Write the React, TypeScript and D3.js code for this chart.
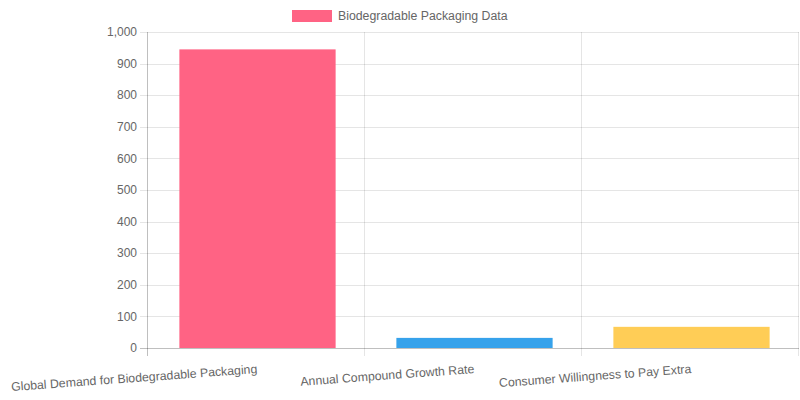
import { useRef, useEffect } from "react";
import * as d3 from "d3";

const categories = [
  "Global Demand for Biodegradable Packaging",
  "Annual Compound Growth Rate",
  "Consumer Willingness to Pay Extra",
];
const values = [945, 32, 67];
const barColors = ["#ff6384", "#36a2eb", "#ffcd56"];
const yTicks = [0, 100, 200, 300, 400, 500, 600, 700, 800, 900, 1000];
const seriesName = "Biodegradable Packaging Data";

const W = 800;
const H = 400;
const margin = { top: 32, right: 1, bottom: 52, left: 148 };
const font = "Liberation Sans, Arial, Helvetica, sans-serif";
const textColor = "#666";
const gridColor = "rgba(0,0,0,0.1)";

export default function App() {
  const svgRef = useRef<SVGSVGElement | null>(null);

  useEffect(() => {
    const svg = d3.select(svgRef.current);
    svg.selectAll("*").remove();

    const x = d3
      .scaleBand()
      .domain(categories)
      .range([margin.left, W - margin.right])
      .paddingInner(0)
      .paddingOuter(0);
    const y = d3
      .scaleLinear()
      .domain([0, 1000])
      .range([H - margin.bottom, margin.top]);

    // horizontal grid + tick marks
    const gy = svg.append("g");
    yTicks.forEach((t) => {
      gy.append("line")
        .attr("x1", margin.left - 8)
        .attr("x2", W - margin.right)
        .attr("y1", Math.round(y(t)) + 0.5)
        .attr("y2", Math.round(y(t)) + 0.5)
        .attr("stroke", t === 0 ? "rgba(0,0,0,0.25)" : gridColor);
      gy.append("text")
        .attr("x", margin.left - 11)
        .attr("y", y(t))
        .attr("dy", "0.35em")
        .attr("text-anchor", "end")
        .attr("font-family", font)
        .attr("font-size", 12)
        .attr("fill", textColor)
        .text(d3.format(",")(t));
    });

    // vertical grid at category edges
    const edges = categories.map((c) => x(c)!).concat([x(categories[2])! + x.bandwidth()]);
    edges.forEach((ex, i) => {
      svg
        .append("line")
        .attr("x1", Math.round(ex) - 0.5)
        .attr("x2", Math.round(ex) - 0.5)
        .attr("y1", margin.top)
        .attr("y2", H - margin.bottom + 8)
        .attr("stroke", i === 0 ? "rgba(0,0,0,0.25)" : gridColor);
    });

    // bars
    const bw = x.bandwidth() * 0.72;
    svg
      .append("g")
      .selectAll("rect")
      .data(values)
      .join("rect")
      .attr("x", (_, i) => x(categories[i])! + (x.bandwidth() - bw) / 2 + 1)
      .attr("y", (d) => y(d))
      .attr("width", bw)
      .attr("height", (d) => y(0) - y(d))
      .attr("fill", (_, i) => barColors[i]);

    // rotated category labels
    svg
      .append("g")
      .selectAll("text")
      .data(categories)
      .join("text")
      .attr("transform", (d) => `translate(${x(d)! + x.bandwidth() / 2 + 1},${373}) rotate(-4.2)`)
      .attr("text-anchor", "end")
      .attr("font-family", font)
      .attr("font-size", 12.3)
      .attr("fill", textColor)
      .text((d) => d);

    // legend
    const lg = svg.append("g");
    lg.append("rect")
      .attr("x", 292)
      .attr("y", 10)
      .attr("width", 40)
      .attr("height", 12)
      .attr("fill", barColors[0]);
    lg.append("text")
      .attr("x", 338)
      .attr("y", 16)
      .attr("dy", "0.35em")
      .attr("font-family", font)
      .attr("font-size", 12.3)
      .attr("fill", textColor)
      .text(seriesName);
  }, []);

  return (
    <svg
      ref={svgRef}
      width={W}
      height={H}
      style={{ position: "absolute", left: 0, top: 0, background: "#fff" }}
    ></svg>
  );
}
